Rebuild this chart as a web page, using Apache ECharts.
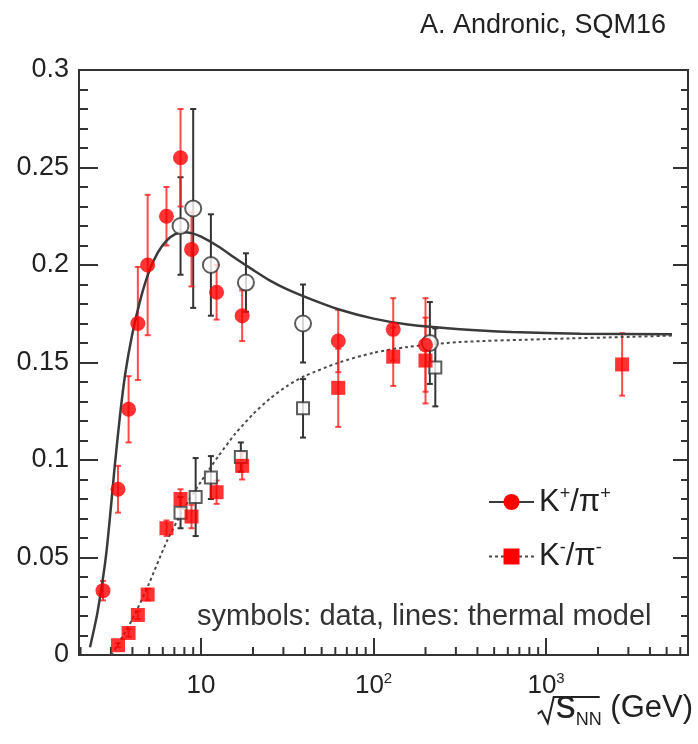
<!DOCTYPE html>
<html>
<head>
<meta charset="utf-8">
<script src="https://cdn.jsdelivr.net/npm/echarts@6/dist/echarts.min.js"></script>
<style>
  html, body { margin: 0; padding: 0; background: #fff; }
  #chart { width: 698px; height: 744px; }
</style>
</head>
<body>
<div id="chart"></div>
<script>
// K+/pi+ ratio, filled circles (sqrt(s_NN) in GeV, ratio, error)
const kpEnergy = [2.7, 3.3, 3.8, 4.3, 4.9, 6.3, 7.6, 8.8, 12.3, 17.3, 62.4, 130, 200];
const kpRatio  = [0.033, 0.085, 0.126, 0.170, 0.200, 0.225, 0.255, 0.208, 0.186, 0.174, 0.161, 0.167, 0.159];
const kpError  = [0.005, 0.012, 0.017, 0.029, 0.036, 0.015, 0.025, 0.019, 0.014, 0.013, 0.016, 0.016, 0.024];

// K-/pi- ratio, filled squares
const kmEnergy = [3.3, 3.8, 4.3, 4.9, 6.3, 7.6, 8.8, 12.3, 17.3, 62.4, 130, 200, 2760];
const kmRatio  = [0.005, 0.0113, 0.0205, 0.031, 0.065, 0.080, 0.071, 0.0835, 0.097, 0.137, 0.153, 0.151, 0.149];
const kmError  = [0.001, 0.002, 0.002, 0.003, 0.004, 0.005, 0.006, 0.006, 0.007, 0.020, 0.015, 0.022, 0.016];

// second K+/pi+ data set, open circles
const kpOpenEnergy = [7.6, 9.0, 11.4, 18.2, 39, 212];
const kpOpenRatio  = [0.220, 0.229, 0.200, 0.191, 0.170, 0.160];
const kpOpenError  = [0.025, 0.051, 0.026, 0.015, 0.020, 0.021];

// second K-/pi- data set, open squares
const kmOpenEnergy = [7.6, 9.3, 11.4, 17.0, 39, 228];
const kmOpenRatio  = [0.073, 0.081, 0.091, 0.1015, 0.1265, 0.1475];
const kmOpenError  = [0.008, 0.020, 0.011, 0.0075, 0.015, 0.020];

// thermal model curves
const modelKpEnergy = [2.27, 2.51, 2.82, 3.16, 3.39, 3.63, 3.98, 4.47, 5.01, 5.62, 6.31, 7.08, 7.94, 8.91, 10.0,
                       12.6, 15.8, 20.0, 25.1, 31.6, 44.7, 63.1, 100, 158, 316, 631, 1585, 5370];
const modelKpRatio  = [0.004, 0.022, 0.052, 0.097, 0.123, 0.144, 0.164, 0.183, 0.197, 0.2065, 0.2125, 0.2158, 0.2168, 0.2162, 0.2145,
                       0.2095, 0.2035, 0.1975, 0.192, 0.1875, 0.182, 0.1772, 0.1725, 0.1695, 0.1671, 0.1657, 0.1648, 0.1645];
const modelKmEnergy = [3.02, 3.98, 5.01, 6.31, 7.94, 10.0, 12.6, 15.8, 20.0, 25.1, 31.6, 39.8, 63.1, 100, 158, 316, 1000, 3162, 5370];
const modelKmRatio  = [0.0, 0.018, 0.037, 0.058, 0.075, 0.089, 0.102, 0.1135, 0.1235, 0.1315, 0.138, 0.143, 0.150, 0.155, 0.158, 0.1605, 0.162, 0.1632, 0.1638];

// axis settings
const xMin = 1.96, xMax = 6650;
const xMinorTicks = [2, 3, 4, 5, 6, 7, 8, 9, 20, 30, 40, 50, 60, 70, 80, 90,
                     200, 300, 400, 500, 600, 700, 800, 900, 2000, 3000, 4000, 5000, 6000];

const RED = '#ff0000';
const INK = '#333333';
const TEXT = '#222222';
const FONT = '"Liberation Sans", Arial, Helvetica, sans-serif';

const zip3 = (a, b, c) => a.map((v, i) => [v, b[i], c[i]]);
const zip2 = (a, b) => a.map((v, i) => [v, b[i]]);

function errorBars(color) {
  return function (params, api) {
    const x = api.value(0), y = api.value(1), e = api.value(2);
    const top = api.coord([x, y + e]);
    const bot = api.coord([x, y - e]);
    const cap = 3;
    const style = { stroke: color, lineWidth: 2 };
    return {
      type: 'group',
      children: [
        { type: 'line', shape: { x1: top[0], y1: top[1], x2: bot[0], y2: bot[1] }, style },
        { type: 'line', shape: { x1: top[0] - cap, y1: top[1], x2: top[0] + cap, y2: top[1] }, style },
        { type: 'line', shape: { x1: bot[0] - cap, y1: bot[1], x2: bot[0] + cap, y2: bot[1] }, style }
      ]
    };
  };
}

function minorTickRender(params, api) {
  const p = api.coord([api.value(0), 0]);
  return {
    type: 'line',
    shape: { x1: p[0], y1: p[1], x2: p[0], y2: p[1] - 8 },
    style: { stroke: INK, lineWidth: 2 }
  };
}

// Axis title "√s_NN (GeV)": text pieces laid out from measured widths,
// with the radical sign drawn as a polyline over s_NN
function axisTitleGraphics(rightEdge, baseline) {
  const ctx = document.createElement('canvas').getContext('2d');
  const measure = (t, size) => { ctx.font = size + 'px ' + FONT; return ctx.measureText(t).width; };
  const parts = [
    { t: 's', size: 40, dy: 3 },
    { t: 'NN', size: 18, dy: 5 },
    { t: ' (GeV)', size: 31, dy: 0 }
  ];
  parts.forEach(p => { p.w = measure(p.t, p.size); });
  const total = parts.reduce((s, p) => s + p.w, 0);
  let x = rightEdge - total;
  const xs = [];
  const out = [];
  parts.forEach(p => {
    xs.push(x);
    out.push({
      type: 'text',
      x: x, y: baseline + p.dy,
      style: { text: p.t, fontSize: p.size, fontFamily: FONT, fill: TEXT, verticalAlign: 'bottom' }
    });
    x += p.w;
  });
  const top = baseline - 27;
  const r0 = xs[0] - 18;
  out.push({
    type: 'polyline',
    shape: {
      points: [
        [r0, baseline - 10], [r0 + 4, baseline - 13], [r0 + 10, baseline - 1],
        [r0 + 16, top], [xs[2] - 2, top]
      ]
    },
    style: { stroke: TEXT, lineWidth: 2, fill: null }
  });
  return out;
}

const chart = echarts.init(document.getElementById('chart'), null, { renderer: 'canvas' });

const yAxisBase = {
  type: 'value',
  min: 0,
  max: 0.3,
  interval: 0.05,
  axisLine: { show: true, lineStyle: { color: INK, width: 2 } },
  axisTick: { show: true, inside: true, length: 19, lineStyle: { color: INK, width: 2 } },
  minorTick: { show: true, splitNumber: 5, length: 9, lineStyle: { color: INK, width: 2 } },
  splitLine: { show: false }
};

const supRich = (size, lh) => ({
  b: { fontSize: size, fontFamily: FONT, color: TEXT, lineHeight: lh },
  sup: { fontSize: Math.round(size * 0.58), fontFamily: FONT, color: TEXT, verticalAlign: 'top', lineHeight: lh, padding: [0, 0, Math.round(size * 0.45), 0] }
});

chart.setOption({
  animation: false,
  backgroundColor: '#ffffff',
  textStyle: { fontFamily: FONT },
  grid: {
    left: 79, right: 10, top: 70, bottom: 89,
    show: true, borderColor: INK, borderWidth: 2, backgroundColor: 'transparent'
  },
  xAxis: {
    type: 'log',
    logBase: 10,
    min: xMin,
    max: xMax,
    axisLine: { show: true, lineStyle: { color: INK, width: 2 } },
    axisTick: { show: true, inside: true, length: 17, lineStyle: { color: INK, width: 2 } },
    splitLine: { show: false },
    axisLabel: {
      showMinLabel: false,
      showMaxLabel: false,
      margin: 16,
      color: TEXT,
      fontSize: 26,
      fontFamily: FONT,
      formatter: function (v) {
        const e = Math.round(Math.log10(v));
        return e === 1 ? '{b|10}' : '{b|10}{sup|' + e + '}';
      },
      rich: supRich(26, 30)
    }
  },
  yAxis: [
    Object.assign({}, yAxisBase, {
      position: 'left',
      axisLabel: {
        margin: 10,
        color: TEXT,
        fontSize: 27,
        fontFamily: FONT,
        formatter: v => (v === 0 ? '0' : String(+v.toFixed(2)))
      }
    }),
    Object.assign({}, yAxisBase, {
      position: 'right',
      axisLabel: { show: false },
      axisTick: { show: true, inside: true, length: 15, lineStyle: { color: INK, width: 2 } },
      minorTick: { show: true, splitNumber: 5, length: 7, lineStyle: { color: INK, width: 2 } }
    })
  ],
  legend: {
    data: ['K+/π+', 'K-/π-'],
    orient: 'vertical',
    left: 483,
    top: 480,
    itemWidth: 45,
    itemHeight: 20,
    itemGap: 22,
    formatter: function (name) {
      const sign = name.charAt(1);
      return '{b|K}{sup|' + sign + '}{b|/π}{sup|' + sign + '}';
    },
    textStyle: {
      fontSize: 31,
      fontFamily: FONT,
      color: TEXT,
      rich: supRich(31, 34)
    }
  },
  graphic: [
    {
      type: 'text',
      right: 32,
      top: 12,
      style: { text: 'A. Andronic, SQM16', fontSize: 27, fontFamily: FONT, fill: TEXT }
    },
    {
      type: 'text',
      left: 197,
      top: 602,
      style: { text: 'symbols: data, lines: thermal model', fontSize: 29, fontFamily: FONT, fill: INK }
    }
  ].concat(axisTitleGraphics(693, 724)),
  series: [
    {
      name: 'minor x ticks',
      type: 'custom',
      renderItem: minorTickRender,
      data: xMinorTicks.filter(v => v > xMin && v < xMax).map(v => [v, 0]),
      encode: { x: 0, y: 1 },
      silent: true,
      clip: false,
      z: 1
    },
    {
      name: 'err K+ open',
      type: 'custom',
      renderItem: errorBars(INK),
      data: zip3(kpOpenEnergy, kpOpenRatio, kpOpenError),
      encode: { x: 0, y: 1 },
      z: 2
    },
    {
      name: 'err K- open',
      type: 'custom',
      renderItem: errorBars(INK),
      data: zip3(kmOpenEnergy, kmOpenRatio, kmOpenError),
      encode: { x: 0, y: 1 },
      z: 2
    },
    {
      name: 'err K+',
      type: 'custom',
      renderItem: errorBars('rgba(255,30,30,0.8)'),
      data: zip3(kpEnergy, kpRatio, kpError),
      encode: { x: 0, y: 1 },
      z: 3
    },
    {
      name: 'err K-',
      type: 'custom',
      renderItem: errorBars('rgba(255,30,30,0.8)'),
      data: zip3(kmEnergy, kmRatio, kmError),
      encode: { x: 0, y: 1 },
      z: 3
    },
    {
      name: 'K+/π+',
      type: 'line',
      data: zip2(modelKpEnergy, modelKpRatio),
      smooth: 0.25,
      symbol: 'circle',
      showSymbol: false,
      itemStyle: { color: RED },
      lineStyle: { color: '#3a3a3a', width: 2.5 },
      z: 4
    },
    {
      name: 'K-/π-',
      type: 'line',
      data: zip2(modelKmEnergy, modelKmRatio),
      smooth: 0.25,
      symbol: 'rect',
      showSymbol: false,
      itemStyle: { color: RED },
      lineStyle: { color: '#4a4a4a', width: 2, type: [3, 3] },
      z: 4
    },
    {
      name: 'open circles',
      type: 'scatter',
      data: zip2(kpOpenEnergy, kpOpenRatio),
      symbol: 'circle',
      symbolSize: 16,
      itemStyle: { color: '#ffffff', borderColor: INK, borderWidth: 2 },
      z: 5
    },
    {
      name: 'open squares',
      type: 'scatter',
      data: zip2(kmOpenEnergy, kmOpenRatio),
      symbol: 'rect',
      symbolSize: 12,
      itemStyle: { color: '#ffffff', borderColor: INK, borderWidth: 2 },
      z: 5
    },
    {
      name: 'K+ data',
      type: 'scatter',
      data: zip2(kpEnergy, kpRatio),
      symbol: 'circle',
      symbolSize: 15,
      itemStyle: { color: RED },
      z: 6
    },
    {
      name: 'K- data',
      type: 'scatter',
      data: zip2(kmEnergy, kmRatio),
      symbol: 'rect',
      symbolSize: 14,
      itemStyle: { color: RED },
      z: 6
    }
  ]
});
</script>
</body>
</html>
